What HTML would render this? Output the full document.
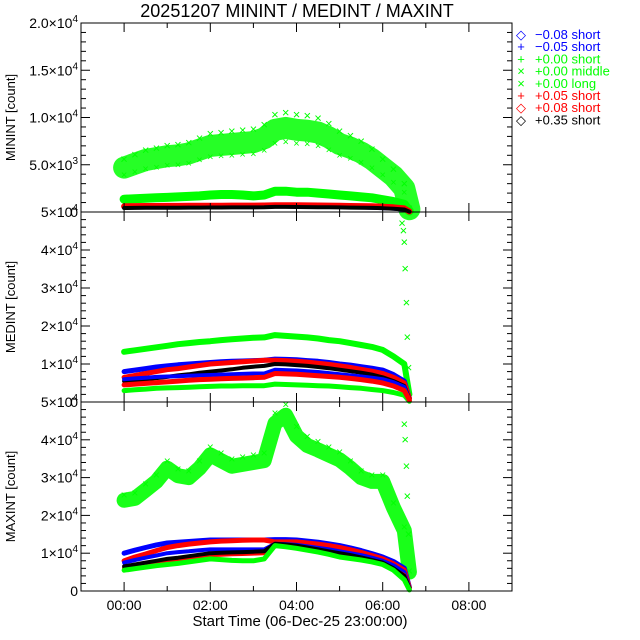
<!DOCTYPE html>
<html><head><meta charset="utf-8"><style>
body{margin:0;background:#fff;}
svg{display:block;font-family:"Liberation Sans",sans-serif;}
</style></head><body>
<svg id="c" width="640" height="640" viewBox="0 0 640 640"></svg>
<script>
const times=[0,0.25,0.5,0.75,1,1.25,1.5,1.75,2,2.25,2.5,2.75,3,3.25,3.5,3.75,4,4.25,4.5,4.75,5,5.25,5.5,5.75,6,6.25,6.5,6.62];
const xTickLabels=["00:00","02:00","04:00","06:00","08:00"];
const xTickHours=[0,2,4,6,8];
// MININT (counts)
const minGreenMiddle=[4700,5100,5500,5700,5900,6000,6200,6600,7000,7100,7200,7300,7400,7800,8700,8900,8700,8600,8400,7900,7200,6800,6300,5600,4700,3800,2500,300];
const minGreenLong=[1350,1400,1450,1500,1550,1600,1650,1700,1800,1850,1850,1800,1700,1800,2200,2200,2100,2100,2000,1900,1800,1700,1600,1500,1300,1100,800,100];
const minRedPlus=[600,620,630,640,650,650,660,660,670,670,680,680,680,690,720,720,710,700,690,680,660,640,620,600,560,500,380,50];
const minBlackDiamond=[420,430,440,450,460,460,470,470,480,480,490,490,490,500,540,540,530,520,510,500,490,470,450,430,400,350,260,30];
const minBluePlus=[520,530,540,550,560,560,570,570,580,580,590,590,590,600,640,640,630,620,610,600,580,560,540,510,470,410,300,40];
// MEDINT (counts, x1e4)
const medGreenShort=[1.32,1.36,1.4,1.44,1.48,1.52,1.55,1.58,1.6,1.63,1.65,1.67,1.69,1.7,1.76,1.74,1.72,1.7,1.67,1.63,1.6,1.55,1.5,1.45,1.37,1.2,1.0,0.2];
const medGreenLong=[0.3,0.32,0.34,0.36,0.37,0.38,0.39,0.4,0.41,0.42,0.42,0.43,0.43,0.43,0.47,0.46,0.45,0.44,0.43,0.42,0.4,0.38,0.36,0.33,0.3,0.25,0.18,0.02];
const medBlueDiamond=[0.8,0.84,0.88,0.92,0.95,0.98,1.0,1.02,1.04,1.06,1.07,1.08,1.09,1.1,1.13,1.12,1.11,1.09,1.07,1.04,1.0,0.97,0.93,0.89,0.84,0.72,0.55,0.1];
const medRedDiamond=[0.65,0.7,0.75,0.8,0.85,0.88,0.92,0.96,1.0,1.02,1.04,1.06,1.08,1.1,1.1,1.09,1.07,1.05,1.02,0.99,0.95,0.91,0.86,0.81,0.75,0.65,0.5,0.1];
const medBlackDiamond=[0.55,0.57,0.6,0.63,0.66,0.7,0.73,0.77,0.8,0.83,0.86,0.9,0.93,0.95,1.0,0.99,0.97,0.95,0.92,0.89,0.85,0.81,0.77,0.72,0.65,0.55,0.42,0.08];
const medBluePlus=[0.6,0.62,0.64,0.66,0.67,0.68,0.69,0.7,0.71,0.72,0.73,0.74,0.75,0.75,0.85,0.84,0.83,0.81,0.79,0.76,0.73,0.7,0.67,0.64,0.6,0.52,0.4,0.06];
const medRedPlus=[0.45,0.47,0.49,0.51,0.53,0.55,0.57,0.59,0.6,0.61,0.62,0.63,0.64,0.65,0.75,0.74,0.73,0.71,0.69,0.67,0.65,0.62,0.59,0.55,0.5,0.42,0.3,0.05];
const medSpikeTimes=[6.45,6.48,6.5,6.52,6.55,6.57,6.6];
const medSpikeValues=[4.7,4.5,4.2,3.5,2.6,1.7,0.9];
// MAXINT (counts, x1e4)
const maxGreenMiddle=[2.4,2.45,2.67,2.9,3.25,3.05,3.0,3.25,3.6,3.45,3.3,3.35,3.4,3.45,4.44,4.65,4.1,3.85,3.73,3.6,3.47,3.25,3.0,2.9,2.9,2.2,1.6,0.5];
const maxBlueDiamond=[1.0,1.08,1.15,1.22,1.27,1.29,1.31,1.33,1.35,1.35,1.35,1.35,1.35,1.35,1.36,1.36,1.35,1.32,1.29,1.25,1.2,1.14,1.07,0.99,0.9,0.78,0.6,0.1];
const maxRedDiamond=[0.8,0.9,0.98,1.07,1.15,1.2,1.24,1.27,1.3,1.32,1.33,1.34,1.35,1.35,1.3,1.3,1.3,1.27,1.24,1.2,1.15,1.09,1.02,0.94,0.85,0.72,0.55,0.08];
const maxBlackDiamond=[0.65,0.7,0.75,0.8,0.85,0.88,0.92,0.96,1.0,1.01,1.02,1.03,1.04,1.05,1.25,1.23,1.2,1.15,1.1,1.05,1.0,0.95,0.89,0.82,0.75,0.6,0.4,0.08];
const maxBluePlus=[0.75,0.82,0.88,0.94,1.0,1.03,1.05,1.08,1.1,1.1,1.1,1.1,1.1,1.1,1.25,1.24,1.22,1.18,1.14,1.1,1.05,1.0,0.95,0.88,0.8,0.68,0.5,0.08];
const maxRedPlus=[0.6,0.66,0.71,0.76,0.8,0.84,0.87,0.91,0.95,0.96,0.97,0.98,0.99,1.0,1.2,1.18,1.15,1.1,1.05,1.0,0.95,0.9,0.85,0.78,0.7,0.58,0.42,0.06];
const maxGreenPlus=[0.55,0.59,0.63,0.67,0.7,0.73,0.77,0.81,0.85,0.83,0.81,0.8,0.8,0.85,1.2,1.17,1.13,1.08,1.03,0.97,0.9,0.86,0.82,0.77,0.7,0.55,0.3,0.03];
const maxSpikeTimes=[6.5,6.52,6.55,6.57,6.6];
const maxSpikeValues=[4.4,4.0,3.3,2.5,1.5];
const legendSymbols=["◇","+","+","×","×","+","◇","◇"];
const legendLabels=["−0.08 short","−0.05 short","+0.00 short","+0.00 middle","+0.00 long","+0.05 short","+0.08 short","+0.35 short"];
const legendColors=["#0000ff","#0000ff","#00ff00","#00ff00","#00ff00","#ff0000","#ff0000","#000000"];

const NS="http://www.w3.org/2000/svg";
const svg=document.getElementById('c');
const X0=81,X1=512,TMIN=-1,TMAX=9;
function xs(t){return X0+(t-TMIN)/(TMAX-TMIN)*(X1-X0);}
function mk(tag,attrs,parent){const e=document.createElementNS(NS,tag);for(const k in attrs)e.setAttribute(k,attrs[k]);(parent||svg).appendChild(e);return e;}
const panels=[{top:23,bot:212,max:2e4,name:"min"},{top:212,bot:402,max:5e4,name:"med"},{top:402,bot:591,max:5e4,name:"max"}];
function ys(p,v){return p.bot-(v/p.max)*(p.bot-p.top);}

function band(p,vals,scale,color,width,name,op){
  const g=mk('g',{});
  
  
  const pts=times.map((t,i)=>xs(t).toFixed(1)+','+ys(p,vals[i]*scale).toFixed(1)).join(' ');
  const pl=mk('polyline',{points:pts,fill:'none',stroke:color,'stroke-width':width,'stroke-linejoin':'round','stroke-linecap':'round',opacity:op||1},g);
  
  
  return g;
}
function marks(p,ts,vals,scale,color,sym,name,fs){
  const g=mk('g',{fill:color,'font-size':fs||12,'text-anchor':'middle'});
  
  
  ts.forEach((t,i)=>{const e=mk('text',{x:xs(t),y:ys(p,vals[i]*scale)+4},g);e.textContent=sym;
    
    });
}
const [P1,P2,P3]=panels;
// panel 1
band(P1,minGreenMiddle,1,'#00ff00',22,'min-green-middle',0.85);
marks(P1,times,minGreenMiddle.map(v=>v*1.18),1,'#00ff00','×','min-green-middle-outliers-high',13);
marks(P1,times,minGreenMiddle.map(v=>v*0.84),1,'#00ff00','×','min-green-middle-outliers-low',11);
band(P1,minGreenLong,1,'#00ff00',9,'min-green-long');
band(P1,minBluePlus,1,'#0000ff',5,'min-blue-plus');
band(P1,minRedPlus,1,'#ff0000',6,'min-red-plus');
band(P1,minBlackDiamond,1,'#000000',4,'min-black-diamond');
// panel 2
band(P2,medGreenShort,1e4,'#00ff00',6,'med-green-short');
band(P2,medGreenLong,1e4,'#00ff00',5,'med-green-long');
band(P2,medBlueDiamond,1e4,'#0000ff',5,'med-blue-diamond');
band(P2,medRedDiamond,1e4,'#ff0000',5,'med-red-diamond');
band(P2,medBlackDiamond,1e4,'#000000',4,'med-black-diamond');
band(P2,medBluePlus,1e4,'#0000ff',4,'med-blue-plus');
band(P2,medRedPlus,1e4,'#ff0000',5,'med-red-plus');
marks(P2,medSpikeTimes,medSpikeValues,1e4,'#00ff00','×','med-green-spike',13);
// panel 3
band(P3,maxGreenMiddle,1e4,'#00ff00',15,'max-green-middle',0.9);
marks(P3,times,maxGreenMiddle.map(v=>v*1.06),1e4,'#00ff00','×','max-green-middle-outliers',12);
marks(P3,maxSpikeTimes,maxSpikeValues,1e4,'#00ff00','×','max-green-spike',13);
band(P3,maxBlueDiamond,1e4,'#0000ff',5,'max-blue-diamond');
band(P3,maxRedDiamond,1e4,'#ff0000',5,'max-red-diamond');
band(P3,maxBluePlus,1e4,'#0000ff',4,'max-blue-plus');
band(P3,maxRedPlus,1e4,'#ff0000',4,'max-red-plus');
band(P3,maxBlackDiamond,1e4,'#000000',4,'max-black-diamond');
band(P3,maxGreenPlus,1e4,'#00ff00',5,'max-green-plus');

// axes
const ax=mk('g',{stroke:'#000','stroke-width':1,fill:'none'});


panels.forEach(p=>{
  const r=mk('rect',{x:X0,y:p.top,width:X1-X0,height:p.bot-p.top},ax);
  
  
  for(let h=-1;h<=9;h++){const L=(h%2===0)?9:5;
    mk('line',{x1:xs(h),x2:xs(h),y1:p.bot,y2:p.bot-L},ax);
    mk('line',{x1:xs(h),x2:xs(h),y1:p.top,y2:p.top+L},ax);}
  const minorStep=p.max===2e4?1e3:2e3, majorStep=p.max===2e4?5e3:1e4;
  for(let v=0;v<=p.max+1;v+=minorStep){const L=(v%majorStep===0)?9:5;const y=ys(p,v);
    mk('line',{x1:X0,x2:X0+L,y1:y,y2:y},ax);mk('line',{x1:X1,x2:X1-L,y1:y,y2:y},ax);}
});
// y labels
function ylab(p,v,mant,exp){
  const t=mk('text',{x:X0-3,y:ys(p,v)+5,'font-size':14,'text-anchor':'end',fill:'#000'});
  
  
  if(exp===null){t.textContent=mant;return;}
  const a=mk('tspan',{},t);a.textContent=mant+'×10';
  const b=mk('tspan',{dy:-6,'font-size':10},t);b.textContent=exp;
}
ylab(P1,2e4,'2.0','4');ylab(P1,1.5e4,'1.5','4');ylab(P1,1e4,'1.0','4');ylab(P1,5e3,'5.0','3');ylab(P1,0,'0',null);
[P2,P3].forEach(p=>{ylab(p,5e4,'5','4');ylab(p,4e4,'4','4');ylab(p,3e4,'3','4');ylab(p,2e4,'2','4');ylab(p,1e4,'1','4');ylab(p,0,'0',null);});
// x labels
xTickHours.forEach((h,i)=>{const t=mk('text',{x:xs(h),y:610,'font-size':14,'text-anchor':'middle',fill:'#000'});t.textContent=xTickLabels[i];
  
  });
const xt=mk('text',{x:300,y:626,'font-size':15,'text-anchor':'middle',fill:'#000'});xt.textContent='Start Time (06-Dec-25 23:00:00)';


const ti=mk('text',{x:297,y:17,'font-size':18,'text-anchor':'middle',fill:'#000'});ti.textContent='20251207 MININT / MEDINT / MAXINT';


[['MININT [count]',P1],['MEDINT [count]',P2],['MAXINT [count]',P3]].forEach(([s,p])=>{const cy=(p.top+p.bot)/2;
  const t=mk('text',{x:15,y:cy,'font-size':13,'text-anchor':'middle',fill:'#000',transform:'rotate(-90 15 '+cy+')'});t.textContent=s;
  
  });
// legend
legendLabels.forEach((s,i)=>{const y=39+i*12.2;
  const g=mk('g',{fill:legendColors[i],'font-size':13});
  
  
  const a=mk('text',{x:521,y:y,'text-anchor':'middle'},g);a.textContent=legendSymbols[i];
  const b=mk('text',{x:535,y:y},g);b.textContent=s;});
</script>
</body></html>
